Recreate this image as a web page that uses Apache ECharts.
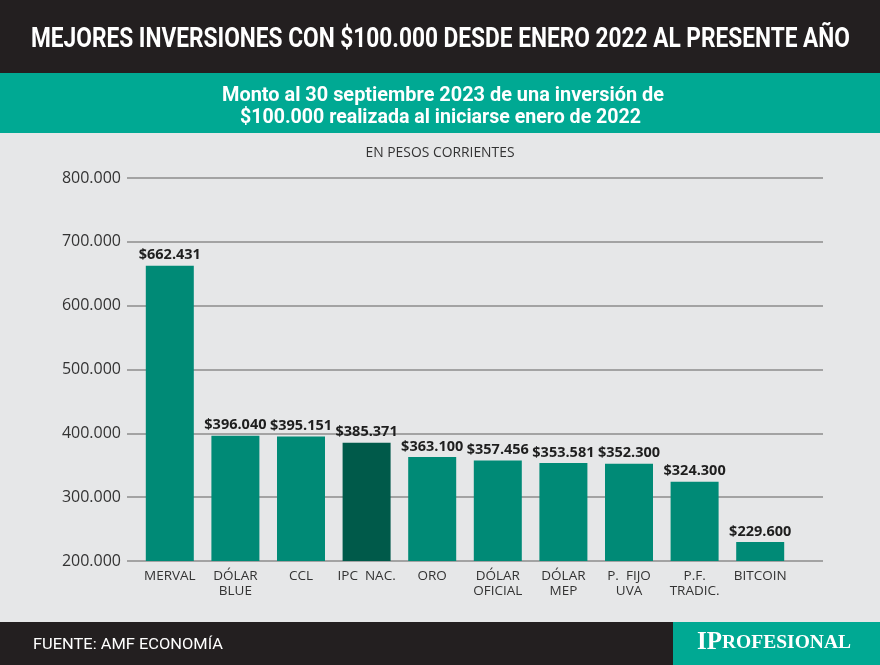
<!DOCTYPE html>
<html>
<head>
<meta charset="utf-8">
<script src="https://cdn.jsdelivr.net/npm/echarts@6/dist/echarts.min.js"></script>
<style>
html,body{margin:0;padding:0;background:#e6e7e8;}
#chart{width:880px;height:665px;}
</style>
</head>
<body>
<div id="chart"></div>
<script>
const categories = ['MERVAL','DÓLAR\nBLUE','CCL','IPC  NAC.','ORO','DÓLAR\nOFICIAL','DÓLAR\nMEP','P.  FIJO\nUVA','P.F.\nTRADIC.','BITCOIN'];
const values = [662431, 396040, 395151, 385371, 363100, 357456, 353581, 352300, 324300, 229600];
const valueLabels = ['$662.431','$396.040','$395.151','$385.371','$363.100','$357.456','$353.581','$352.300','$324.300','$229.600'];
const highlightIndex = 3;
const yTicks = [200000, 300000, 400000, 500000, 600000, 700000, 800000];

const titleText = 'MEJORES INVERSIONES CON $100.000 DESDE ENERO 2022 AL PRESENTE AÑO';
const subtitleLines = ['Monto al 30 septiembre 2023 de una inversión de', '$100.000 realizada al iniciarse enero de 2022'];
const unitText = 'EN PESOS CORRIENTES';
const sourceText = 'FUENTE: AMF ECONOMÍA';

const head = 'Roboto,"Open Sans",sans-serif';
const sans = '"Open Sans","Noto Sans",sans-serif';

const ctx = document.createElement('canvas').getContext('2d');
function fitScale(text, font, target){ ctx.font = font; return target / ctx.measureText(text).width; }

const titleFont = 'bold 28px ' + head;
const subFont = 'bold 20px ' + head;
const srcFont = '15px ' + head;

const fmt = v => (v/1000).toFixed(3);

const chart = echarts.init(document.getElementById('chart'), null, {renderer:'canvas'});
chart.setOption({
  backgroundColor: '#e6e7e8',
  animation: false,
  grid: [
    {left:127, right:57, top:178, bottom:104},
    {left:137, right:87, top:178, bottom:104}
  ],
  xAxis: [
    {gridIndex:0, type:'category', data:categories, show:false},
    {gridIndex:1, type:'category', data:categories,
     axisLine:{show:false}, axisTick:{show:false},
     axisLabel:{interval:0, color:'#333', fontSize:13.5, fontFamily:sans, lineHeight:15, margin:8}}
  ],
  yAxis: [
    {gridIndex:0, type:'value', min:yTicks[0], max:yTicks[yTicks.length-1], interval:100000,
     axisLine:{show:false}, axisTick:{show:false},
     splitLine:{lineStyle:{color:'#a3a3a3', width:2}},
     axisLabel:{color:'#333', fontSize:16, fontFamily:sans, margin:6, formatter:fmt}},
    {gridIndex:1, type:'value', min:yTicks[0], max:yTicks[yTicks.length-1], interval:100000, show:false}
  ],
  series: [{
    type:'bar', xAxisIndex:1, yAxisIndex:1,
    data: values.map((v,i)=>({value:v, itemStyle:{color: i===highlightIndex ? '#005a4a' : '#008a76'}})),
    barWidth:48,
    label:{show:true, position:'top', distance:3, color:'#1e1e1e', fontSize:14.5, fontWeight:'bold', fontFamily:sans,
      formatter: p => valueLabels[p.dataIndex]}
  }],
  graphic: [
    {type:'rect', left:0, top:0, shape:{width:880, height:73}, style:{fill:'#231f20'}, z:-1},
    {type:'rect', left:0, top:73, shape:{width:880, height:60}, style:{fill:'#00a993'}, z:-1},
    {type:'rect', left:0, top:622, shape:{width:880, height:43}, style:{fill:'#231f20'}, z:-1},
    {type:'rect', left:673, top:622, shape:{width:207, height:43}, style:{fill:'#00a993'}, z:-1},
    {type:'text', x:440.5, y:40, scaleX:fitScale(titleText, titleFont, 819),
     style:{text:titleText, fill:'#fff', font:titleFont, textAlign:'center', textVerticalAlign:'middle'}},
    {type:'text', x:443, y:96, scaleX:fitScale(subtitleLines[0], subFont, 442),
     style:{text:subtitleLines[0], fill:'#fff', font:subFont, textAlign:'center', textVerticalAlign:'middle'}},
    {type:'text', x:440.5, y:118, scaleX:fitScale(subtitleLines[1], subFont, 401),
     style:{text:subtitleLines[1], fill:'#fff', font:subFont, textAlign:'center', textVerticalAlign:'middle'}},
    {type:'text', x:440, y:153, style:{text:unitText, fill:'#333', font:'14px '+sans, textAlign:'center', textVerticalAlign:'middle'},
     scaleX: fitScale(unitText, '14px '+sans, 149)},
    {type:'text', x:33, y:645, scaleX:fitScale(sourceText, srcFont, 190),
     style:{text:sourceText, fill:'#fff', font:srcFont, textAlign:'left', textVerticalAlign:'middle'}},
    {type:'text', x:774, y:643, style:{
      text:'{a|IP}{b|ROFESIONAL}', textAlign:'center', textVerticalAlign:'middle',
      rich:{a:{fill:'#fff', fontSize:25, fontWeight:'bold', fontFamily:'"Liberation Serif","DejaVu Serif",serif'},
            b:{fill:'#fff', fontSize:19.5, fontWeight:'bold', fontFamily:'"Liberation Serif","DejaVu Serif",serif'}}
    }}
  ]
});
</script>
</body>
</html>
